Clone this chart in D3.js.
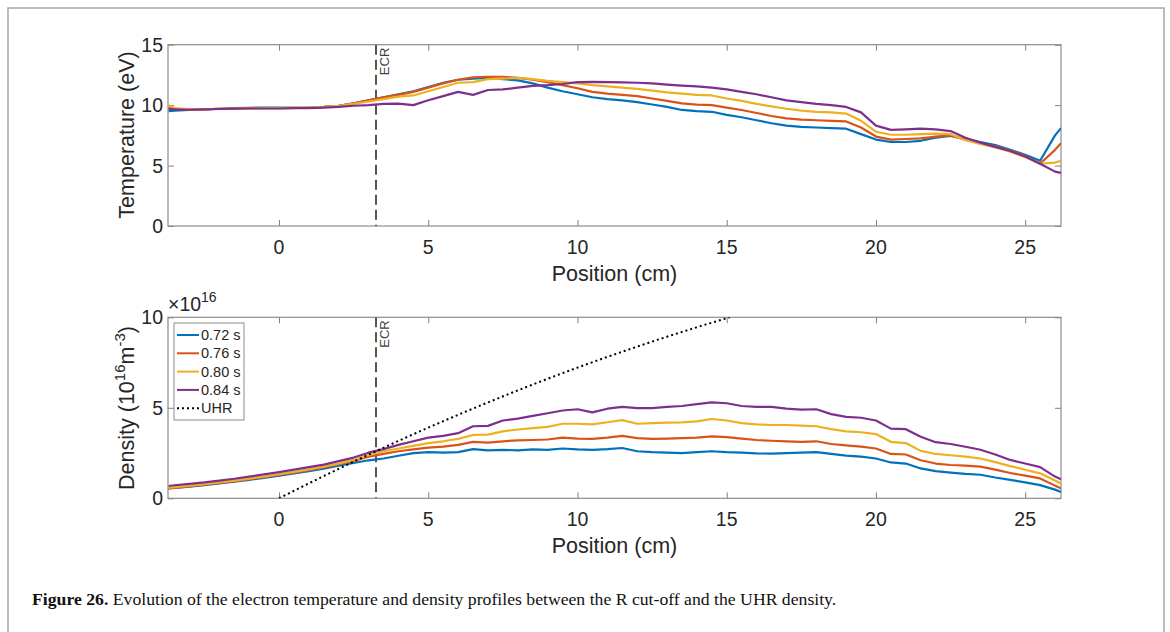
<!DOCTYPE html>
<html>
<head>
<meta charset="utf-8">
<style>
body { margin: 0; background: #fff; }
svg { display: block; font-family: "Liberation Sans", Arial, sans-serif; }
.tick-label { fill: #262626; font-size: 19.5px; }
.axis-title { fill: #262626; font-size: 21.5px; }
</style>
</head>
<body>
<svg width="1170" height="632"></svg>
<script src="https://d3js.org/d3.v7.min.js"></script>
<script>
// position grid (cm), shared by all series
var positions = [-3.7, -3.5, -3, -2.5, -2, -1.5, -1, -0.5, 0, 0.5, 1, 1.5, 2, 2.5, 3, 3.5, 4, 4.5, 5, 5.5,
  6, 6.5, 7, 7.5, 8, 8.5, 9, 9.5, 10, 10.5, 11, 11.5, 12, 12.5, 13, 13.5, 14, 14.5, 15, 15.5,
  16, 16.5, 17, 17.5, 18, 18.5, 19, 19.5, 20, 20.5, 21, 21.5, 22, 22.5, 23, 23.5, 24, 24.5, 25, 25.5, 26, 26.2];

var times = ["0.72 s", "0.76 s", "0.80 s", "0.84 s"];
var colours = ["#0072BD", "#D95319", "#EDB120", "#7E2F8E"];

// electron temperature (eV)
var temp072 = [9.5, 9.55, 9.6, 9.65, 9.7, 9.75, 9.78, 9.8, 9.8, 9.78, 9.8, 9.85, 9.95, 10.15, 10.4, 10.65, 10.9, 11.15, 11.5, 11.85,
  12.1, 12.2, 12.25, 12.15, 12.05, 11.8, 11.45, 11.15, 10.9, 10.65, 10.5, 10.4, 10.25, 10.05, 9.85, 9.6, 9.5, 9.45, 9.2, 9.0,
  8.75, 8.5, 8.3, 8.2, 8.15, 8.1, 8.05, 7.6, 7.15, 6.95, 6.95, 7.05, 7.3, 7.45, 7.2, 6.95, 6.7, 6.3, 5.9, 5.4, 7.5, 8.1];
var temp076 = [9.75, 9.7, 9.65, 9.65, 9.7, 9.72, 9.75, 9.75, 9.75, 9.78, 9.8, 9.85, 9.95, 10.15, 10.4, 10.65, 10.85, 11.1, 11.45, 11.8,
  12.1, 12.3, 12.35, 12.35, 12.25, 12.1, 11.9, 11.65, 11.4, 11.1, 10.95, 10.85, 10.75, 10.55, 10.35, 10.15, 10.05, 10.0, 9.8, 9.6,
  9.35, 9.1, 8.9, 8.8, 8.75, 8.7, 8.65, 8.15, 7.4, 7.15, 7.2, 7.25, 7.4, 7.5, 7.15, 6.85, 6.6, 6.25, 5.8, 5.15, 6.3, 6.85];
var temp080 = [10.0, 9.75, 9.65, 9.65, 9.7, 9.7, 9.72, 9.75, 9.75, 9.78, 9.82, 9.85, 9.95, 10.1, 10.3, 10.5, 10.7, 10.8, 11.15, 11.5,
  11.85, 11.9, 12.15, 12.2, 12.25, 12.15, 12.0, 11.9, 11.8, 11.65, 11.55, 11.45, 11.35, 11.2, 11.05, 10.95, 10.85, 10.8, 10.55, 10.35,
  10.1, 9.9, 9.7, 9.55, 9.45, 9.4, 9.3, 8.7, 7.8, 7.55, 7.55, 7.6, 7.65, 7.6, 7.1, 6.8, 6.5, 6.15, 5.7, 5.15, 5.25, 5.4];
var temp084 = [9.7, 9.65, 9.62, 9.65, 9.68, 9.7, 9.72, 9.72, 9.72, 9.75, 9.75, 9.8, 9.85, 9.95, 10.0, 10.1, 10.12, 10.0, 10.4, 10.75,
  11.1, 10.85, 11.25, 11.3, 11.45, 11.6, 11.65, 11.75, 11.9, 11.92, 11.9, 11.88, 11.85, 11.8, 11.7, 11.62, 11.55, 11.45, 11.3, 11.1,
  10.9, 10.65, 10.4, 10.25, 10.1, 10.0, 9.85, 9.4, 8.3, 7.95, 8.0, 8.05, 8.0, 7.85, 7.3, 6.9, 6.55, 6.2, 5.75, 5.15, 4.5, 4.4];

// electron density (1e16 m^-3)
var dens072 = [0.55, 0.58, 0.65, 0.73, 0.82, 0.92, 1.02, 1.13, 1.25, 1.38, 1.5, 1.64, 1.8, 1.95, 2.1, 2.2, 2.35, 2.5, 2.55, 2.52,
  2.55, 2.72, 2.65, 2.68, 2.65, 2.7, 2.68, 2.75, 2.7, 2.68, 2.72, 2.78, 2.6, 2.55, 2.52, 2.5, 2.55, 2.6, 2.55, 2.52,
  2.48, 2.47, 2.5, 2.52, 2.55, 2.45, 2.36, 2.3, 2.2, 1.98, 1.92, 1.65, 1.5, 1.42, 1.35, 1.3, 1.15, 1.02, 0.88, 0.73, 0.48, 0.35];
var dens076 = [0.55, 0.58, 0.66, 0.75, 0.85, 0.95, 1.06, 1.17, 1.3, 1.42, 1.56, 1.7, 1.88, 2.06, 2.3, 2.45, 2.6, 2.7, 2.8, 2.85,
  2.95, 3.12, 3.08, 3.15, 3.2, 3.22, 3.25, 3.35, 3.3, 3.28, 3.35, 3.45, 3.32, 3.28, 3.3, 3.32, 3.35, 3.42, 3.38, 3.3,
  3.22, 3.18, 3.15, 3.12, 3.15, 3.0, 2.92, 2.85, 2.75, 2.45, 2.42, 2.1, 1.92, 1.84, 1.8, 1.75, 1.58, 1.4, 1.25, 1.1, 0.7, 0.55];
var dens080 = [0.58, 0.62, 0.7, 0.78, 0.88, 0.98, 1.09, 1.2, 1.33, 1.46, 1.6, 1.75, 1.92, 2.12, 2.38, 2.6, 2.75, 2.9, 3.05, 3.15,
  3.28, 3.5, 3.52, 3.7, 3.8, 3.88, 3.95, 4.12, 4.12, 4.08, 4.2, 4.32, 4.12, 4.15, 4.18, 4.2, 4.25, 4.38, 4.3, 4.15,
  4.08, 4.05, 4.05, 4.02, 3.98, 3.82, 3.7, 3.65, 3.55, 3.12, 3.05, 2.62, 2.45, 2.38, 2.3, 2.2, 2.0, 1.78, 1.58, 1.38, 0.98, 0.82];
var dens084 = [0.68, 0.72, 0.8, 0.88, 0.98, 1.08, 1.2, 1.32, 1.45, 1.58, 1.72, 1.86, 2.05, 2.25, 2.52, 2.72, 2.95, 3.15, 3.35, 3.45,
  3.6, 3.98, 4.0, 4.3, 4.4, 4.55, 4.7, 4.85, 4.92, 4.75, 4.95, 5.05, 4.98, 4.98, 5.05, 5.1, 5.2, 5.3, 5.25, 5.1,
  5.05, 5.05, 4.95, 4.9, 4.92, 4.65, 4.5, 4.45, 4.3, 3.85, 3.82, 3.4, 3.1, 3.0, 2.85, 2.68, 2.42, 2.12, 1.92, 1.72, 1.2, 1.05];

// upper hybrid resonance density (bends over slightly)
var uhrPos = [0, 2, 4, 6, 8, 10, 12, 14, 15.1];
var uhrDens = [0, 1.63, 3.17, 4.61, 5.96, 7.22, 8.38, 9.45, 10];

var ecrPos = 3.25;
var xTicks = [0, 5, 10, 15, 20, 25];

var svg = d3.select("svg");

// frame round the figure
svg.append("rect")
  .attr("x", 8).attr("y", 8).attr("width", 1156).attr("height", 640)
  .attr("fill", "none").attr("stroke", "#a6a6a6").attr("stroke-width", 1.5);

var x = d3.scaleLinear().domain([-3.72, 26.2]).range([168, 1061]);

function panel(top, bottom, yMax, yTicks, series, clipId) {
  var y = d3.scaleLinear().domain([0, yMax]).range([bottom, top]);
  var g = svg.append("g");

  svg.append("clipPath").attr("id", clipId)
    .append("rect").attr("x", x.range()[0]).attr("y", top)
    .attr("width", x.range()[1] - x.range()[0]).attr("height", bottom - top);

  // inward ticks on all four sides
  var tl = 6;
  g.append("g").attr("transform", "translate(0," + bottom + ")")
    .call(d3.axisBottom(x).tickValues(xTicks).tickSize(-tl).tickFormat(""));
  g.append("g").attr("transform", "translate(0," + top + ")")
    .call(d3.axisTop(x).tickValues(xTicks).tickSize(-tl).tickFormat(""));
  g.append("g").attr("transform", "translate(" + x.range()[0] + ",0)")
    .call(d3.axisLeft(y).tickValues(yTicks).tickSize(-tl).tickFormat(""));
  g.append("g").attr("transform", "translate(" + x.range()[1] + ",0)")
    .call(d3.axisRight(y).tickValues(yTicks).tickSize(-tl).tickFormat(""));
  g.selectAll(".domain").remove();
  g.selectAll(".tick line").attr("stroke", "#808080");

  g.append("rect")
    .attr("x", x.range()[0]).attr("y", top)
    .attr("width", x.range()[1] - x.range()[0]).attr("height", bottom - top)
    .attr("fill", "none").attr("stroke", "#8c8c8c").attr("stroke-width", 1.2);

  // tick labels
  g.selectAll(".xl").data(xTicks).enter().append("text")
    .attr("class", "tick-label").attr("text-anchor", "middle")
    .attr("x", function(d){ return x(d); }).attr("y", bottom + 28)
    .text(function(d){ return d; });
  g.selectAll(".yl").data(yTicks).enter().append("text")
    .attr("class", "tick-label").attr("text-anchor", "end")
    .attr("x", x.range()[0] - 5).attr("y", function(d){ return y(d) + 7; })
    .text(function(d){ return d; });

  g.append("text").attr("class", "axis-title").attr("text-anchor", "middle")
    .attr("x", (x.range()[0] + x.range()[1]) / 2).attr("y", bottom + 55)
    .text("Position (cm)");

  var plot = svg.append("g").attr("clip-path", "url(#" + clipId + ")");

  // ECR marker
  plot.append("line")
    .attr("x1", x(ecrPos)).attr("x2", x(ecrPos)).attr("y1", top).attr("y2", bottom)
    .attr("stroke", "#555").attr("stroke-width", 2).attr("stroke-dasharray", "10,5");
  svg.append("text")
    .attr("transform", "translate(" + (x(ecrPos) + 13) + "," + (top + 3) + ") rotate(-90)")
    .attr("text-anchor", "end").attr("fill", "#404040").style("font-size", "13px")
    .text("ECR");

  var line = d3.line()
    .x(function(d, i){ return x(positions[i]); })
    .y(function(d){ return y(d); });

  series.forEach(function(s, i){
    plot.append("path").datum(s)
      .attr("fill", "none").attr("stroke", colours[i]).attr("stroke-width", 2.2)
      .attr("stroke-linejoin", "round")
      .attr("d", line);
  });

  return { y: y, plot: plot };
}

var topPanel = panel(44.7, 226, 15, [0, 5, 10, 15], [temp072, temp076, temp080, temp084], "clipT");
var botPanel = panel(317.3, 498.3, 10, [0, 5, 10], [dens072, dens076, dens080, dens084], "clipB");

// UHR dotted line
botPanel.plot.append("path")
  .datum(uhrPos.map(function(p, i){ return [p, uhrDens[i]]; }))
  .attr("fill", "none").attr("stroke", "#000").attr("stroke-width", 2)
  .attr("stroke-dasharray", "2,3")
  .attr("d", d3.line().curve(d3.curveMonotoneX)
    .x(function(d){ return x(d[0]); }).y(function(d){ return botPanel.y(d[1]); }));

// y axis titles
svg.append("text").attr("class", "axis-title").attr("text-anchor", "middle")
  .attr("transform", "translate(134,135) rotate(-90)")
  .text("Temperature (eV)");

var dt = svg.append("text").attr("class", "axis-title").attr("text-anchor", "middle")
  .attr("transform", "translate(134,408) rotate(-90)");
dt.append("tspan").text("Density (10");
dt.append("tspan").attr("dy", -9).style("font-size", "15px").text("16");
dt.append("tspan").attr("dy", 9).text("m");
dt.append("tspan").attr("dy", -9).style("font-size", "15px").text("-3");
dt.append("tspan").attr("dy", 9).text(")");

// exponent label
var ex = svg.append("text").attr("class", "tick-label").attr("x", 168).attr("y", 311);
ex.append("tspan").text("\u00d710");
ex.append("tspan").attr("dy", -9).style("font-size", "14px").text("16");

// legend
var legend = svg.append("g");
legend.append("rect").attr("x", 174).attr("y", 323).attr("width", 70).attr("height", 97)
  .attr("fill", "#fff").attr("stroke", "#8c8c8c").attr("stroke-width", 1);
var labels = times.concat(["UHR"]);
labels.forEach(function(t, i){
  var yy = 335 + i * 18.3;
  legend.append("line").attr("x1", 177).attr("x2", 199).attr("y1", yy).attr("y2", yy)
    .attr("stroke", i < 4 ? colours[i] : "#000").attr("stroke-width", 2)
    .attr("stroke-dasharray", i < 4 ? null : "2,3");
  legend.append("text").attr("x", 201).attr("y", yy + 5).attr("fill", "#262626")
    .style("font-size", "14.5px").text(t);
});

// caption
var cap = svg.append("text").attr("x", 32).attr("y", 605)
  .style("font-family", "'Liberation Serif', 'DejaVu Serif', serif").style("font-size", "17.7px")
  .attr("fill", "#111");
cap.append("tspan").style("font-weight", "bold").text("Figure 26.");
cap.append("tspan").text(" Evolution of the electron temperature and density profiles between the R cut-off and the UHR density.");
</script>
</body>
</html>
